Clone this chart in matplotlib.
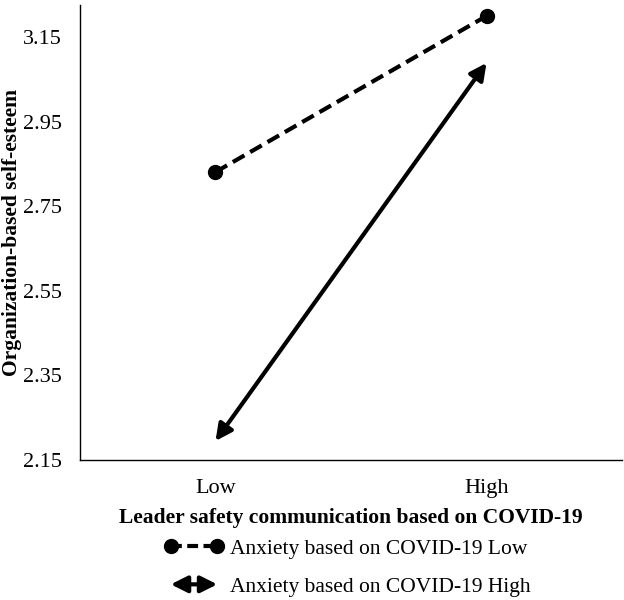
import matplotlib.pyplot as plt
from matplotlib.lines import Line2D
from matplotlib.patches import FancyArrowPatch
from matplotlib.legend_handler import HandlerBase

plt.rcParams['font.family'] = ['Liberation Serif', 'DejaVu Serif']

# Dados
categorias = ['Low', 'High']
ansiedade_baixa = [2.831, 3.200]
ansiedade_alta = [2.195, 3.089]
yticks = [2.15, 2.35, 2.55, 2.75, 2.95, 3.15]

x = list(range(len(categorias)))

fig = plt.figure(figsize=(6.24, 6.0), dpi=100)
ax = fig.add_axes([0.1282, 0.2333, 0.8686, 0.7584])

estilo_seta = '<|-|>,head_length=0.9,head_width=0.45'

# Linha tracejada com marcadores
ax.plot(x, ansiedade_baixa, linestyle=(0, (3.2, 1.6)), color='black', linewidth=3,
        marker='o', markersize=10)

# Linha com setas nas duas pontas
seta = FancyArrowPatch((x[0], ansiedade_alta[0]), (x[1], ansiedade_alta[1]),
                       arrowstyle=estilo_seta, color='black', linewidth=3,
                       shrinkA=0, shrinkB=0, mutation_scale=11)
ax.add_patch(seta)

ax.set_xlim(-0.5, 1.5)
ax.set_ylim(2.15, 3.226)
ax.set_xticks(x)
ax.set_xticklabels(categorias, fontsize=16)
ax.set_yticks(yticks)
ax.set_yticklabels([f'{v:.2f}' for v in yticks], fontsize=16)
ax.tick_params(axis='y', length=0, pad=13)
ax.tick_params(axis='x', length=0, pad=14)
for s in ['top', 'right']:
    ax.spines[s].set_visible(False)
ax.spines['left'].set_linewidth(1)
ax.spines['bottom'].set_linewidth(1)

ax.set_ylabel('Organization-based self-esteem', fontsize=15.5, fontweight='bold')
ax.yaxis.set_label_coords(-0.107, 0.5)
ax.set_xlabel('Leader safety communication based on COVID-19', fontsize=15.5,
              fontweight='bold', labelpad=7)


class HandlerSeta(HandlerBase):
    def create_artists(self, legend, orig_handle, xdescent, ydescent, width, height, fontsize, trans):
        p = FancyArrowPatch((-xdescent + 0.1 * width, height / 2 - ydescent),
                            (-xdescent + 0.9 * width, height / 2 - ydescent),
                            arrowstyle=estilo_seta, color='black', linewidth=3,
                            shrinkA=0, shrinkB=0, mutation_scale=11, transform=trans)
        return [p]


h1 = Line2D([], [], linestyle=(0, (2.6, 1.3)), color='black', linewidth=3,
            marker='o', markersize=10)
h2 = FancyArrowPatch((0, 0), (1, 1))
fig.legend([h1, h2], ['Anxiety based on COVID-19 Low', 'Anxiety based on COVID-19 High'],
           handler_map={FancyArrowPatch: HandlerSeta()}, numpoints=2,
           loc='upper center', bbox_to_anchor=(0.557, 0.127), frameon=False,
           fontsize=15.5, handlelength=2.7, handletextpad=0.3, labelspacing=0.83,
           borderpad=0.2)

plt.savefig('out.png', dpi=100)
